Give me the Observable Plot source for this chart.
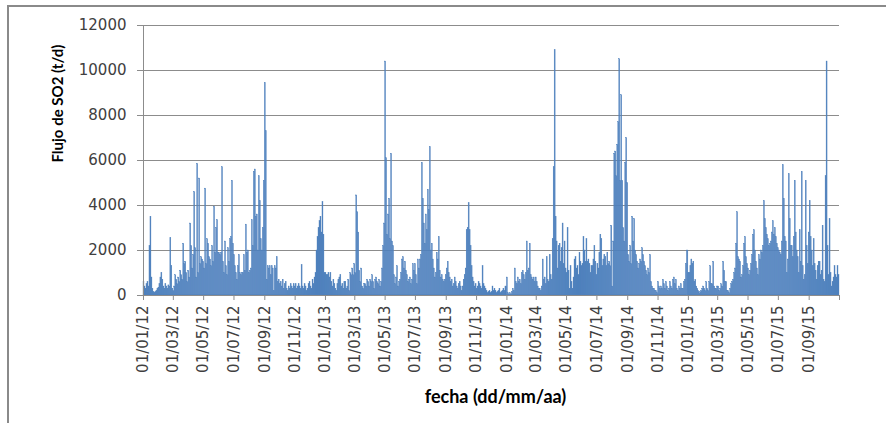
<!DOCTYPE html>
<html><head><meta charset="utf-8">
<script src="https://cdn.jsdelivr.net/npm/d3@7"></script>
<script src="https://cdn.jsdelivr.net/npm/@observablehq/plot@0.6"></script>
<style>
html,body{margin:0;padding:0;background:#fff;overflow:hidden;width:886px;height:423px}
#frame{position:absolute;left:7px;top:5px;width:1000px;height:1000px;border-left:2px solid #8a8a8a;border-top:2px solid #8a8a8a;}
#chart{position:absolute;left:0;top:0}
</style></head><body><div id="frame"></div><div id="chart"></div>
<script>
// Two-day values (t/d) per year
const yearStarts = ["2012-01-01", "2013-01-01", "2014-01-01", "2015-01-01"];
const axisEnd = "2015-11-01";

const flux2012 = [
600,400,300,500,600,400,2200,3500,800,300,
150,120,150,200,300,350,500,800,1000,700,
400,300,500,400,300,450,400,2550,1300,300,
200,400,900,700,500,800,600,1100,900,700,
2300,1400,1500,1000,600,1100,800,3200,2200,1200,
1800,4600,2100,800,5850,1000,5200,1400,1700,1600,
1500,1200,4750,1400,2500,2300,1700,1600,1300,2200,
1500,3950,1900,3000,3350,1900,1900,1800,1900,5700,
1500,1000,2400,1300,900,2100,1500,2500,2600,5100,
2300,1800,1300,1000,700,1300,1800,1000,900,1000,
1000,1800,1100,3150,1900,2000,1000,1100,1200,3350,
2200,5500,5600,3500,3600,2000,5300,4200,2500,2000,
3000,5100,9450,7300,700,1300,1200,1300,900,1300,
1200,200,1300,1200,1700,600,700,500,600,400,
700,300,500,600,300,200,400,300,500,400,
300,500,400,500,300,400,500,400,300,1350,
400,300,500,400,200,300,500,600,400,300,
700,500,800,1000,2000,2600,3000,3300,3500,2800,
4150,2700,1000];

const flux2013 = [
1000,900,900,1000,800,1000,600,400,700,500,
300,200,500,700,800,900,400,500,300,600,
600,300,400,700,200,1000,900,1200,900,1400,
1000,4450,3700,2800,1100,600,1200,400,300,500,
500,400,700,600,400,700,600,900,600,300,
700,800,600,500,700,400,600,1200,2200,3200,
10400,6100,2700,3600,4300,2500,6300,2400,2200,900,
500,800,1300,400,600,700,1000,1600,1700,1200,
1500,1100,900,600,700,800,500,700,1400,1100,
1400,900,500,1600,1200,1600,1800,5900,4300,3200,
2300,3600,2900,4700,3800,6600,2000,2300,1600,1200,
800,1000,1900,1600,2600,1100,800,900,700,600,
700,900,1200,1500,1000,800,600,700,400,500,
800,600,400,300,500,600,400,200,400,700,
900,1200,2900,3000,4100,2900,2200,1300,800,600,
400,500,300,400,600,500,400,300,1300,500,
400,300,200,100,150,200,100,150,400,200,
300,200,100,150,200,300,100,150,200,300,
200,400];

const flux2014 = [
800,100,50,100,50,150,300,200,1200,600,
500,800,600,700,500,1000,1100,900,700,1000,
2400,1100,1200,2300,900,800,700,800,600,800,
600,400,300,300,200,400,1600,700,800,500,
1700,700,600,1800,900,700,2500,5700,10900,3500,
2400,1200,2200,2300,1500,2100,3200,1400,2400,1200,
1000,3000,1100,300,1300,600,300,800,1600,1700,
1200,1300,900,1900,1500,1300,1400,2600,2000,1500,
2500,1500,1600,1400,1000,1300,1300,1600,2200,1500,
900,1400,1200,1900,2700,2500,1300,1600,1800,1700,
1300,1900,1400,1500,1300,3100,400,2400,6300,6400,
5300,6700,7700,10500,5100,8900,5100,3000,2400,5900,
7000,5000,1800,1500,2200,1400,3500,2400,3400,2000,
1800,1500,1200,1400,1600,1500,2100,1800,1500,1300,
1100,900,1200,1000,1800,600,400,300,300,200,
200,100,600,400,300,400,300,700,500,300,
600,400,200,300,600,400,300,700,800,500,
700,300,200,400,300,500,300,300,600,700,
1400,2000];

const flux2015 = [
1000,1000,1300,1600,1400,1500,600,700,400,300,
200,100,150,200,300,400,300,200,600,300,
200,600,1300,500,500,1500,400,300,300,400,
400,200,300,500,400,1500,1100,600,600,200,
200,100,300,500,600,700,1000,1200,2300,3700,
1700,1600,1500,800,900,1300,2300,2600,1700,1400,
1200,900,1100,1400,1800,2700,2900,2000,1500,1200,
900,1800,1600,2000,1900,2200,4200,3400,3000,2700,
2500,2200,2300,2400,2800,3300,2700,3000,2600,2300,
2100,2000,1900,1800,2400,5800,4300,2600,2400,1000,
1600,5400,3400,2200,2200,1700,2600,5100,2800,2000,
1700,1000,2900,1500,5500,1300,700,900,5100,2200,
1400,2800,4200,2600,2000,1300,2500,1400,1100,700,
1300,1500,1500,900,1100,3100,700,600,5300,10400,
2200,900,3400,1000,400,600,800,1300,900,800,
1300,900];

const tickLabels = ["01/01/12","01/03/12","01/05/12","01/07/12","01/09/12","01/11/12",
  "01/01/13","01/03/13","01/05/13","01/07/13","01/09/13","01/11/13",
  "01/01/14","01/03/14","01/05/14","01/07/14","01/09/14","01/11/14",
  "01/01/15","01/03/15","01/05/15","01/07/15","01/09/15"];
const yTicks = [0, 2000, 4000, 6000, 8000, 10000, 12000];
const yTitle = "Flujo de SO2 (t/d)";
const xTitle = "fecha (dd/mm/aa)";

const series = [flux2012, flux2013, flux2014, flux2015];
const xStart = new Date(yearStarts[0] + "T00:00:00Z");
const xEnd = new Date(axisEnd + "T00:00:00Z");
const rows = [];
series.forEach((arr, k) => {
  const start = new Date(yearStarts[k] + "T00:00:00Z");
  const next = k < series.length - 1 ? new Date(yearStarts[k + 1] + "T00:00:00Z") : xEnd;
  arr.forEach((v, i) => {
    const d1 = d3.utcDay.offset(start, 2 * i);
    let d2 = d3.utcDay.offset(start, 2 * i + 2);
    if (i === arr.length - 1 || d2 > next) d2 = next;
    rows.push({d1, d2, v});
  });
});
const parseTick = d3.utcParse("%d/%m/%y");
const tickDates = tickLabels.map(parseTick);
const gray = "#8c8c8c";
const blue = "#4F81BD";

const plot = Plot.plot({
  width: 886, height: 423,
  marginLeft: 143, marginRight: 47, marginTop: 25, marginBottom: 128,
  style: {fontFamily: "DejaVu Sans", fontSize: "15px", background: "transparent", overflow: "visible"},
  x: {type: "utc", domain: [xStart, xEnd]},
  y: {domain: [0, 12000]},
  marks: [
    Plot.gridY({ticks: yTicks, stroke: gray, strokeOpacity: 1}),
    Plot.rectY(rows, {x1: "d1", x2: "d2", y: "v", fill: blue, stroke: blue, strokeWidth: 0.35}),
    Plot.ruleX([xStart], {stroke: gray}),
    Plot.ruleY([0], {stroke: gray}),
    Plot.axisY({ticks: yTicks, tickSize: 6, tickPadding: 11, stroke: gray, fill: "#404040", label: null, tickFormat: d3.format("d")}),
    Plot.axisX({ticks: tickDates, tickFormat: d3.utcFormat("%d/%m/%y"), tickRotate: -90, tickSize: 5, tickPadding: 5, stroke: gray, fill: "#404040", label: null}),
    Plot.axisX({ticks: [xEnd], tickFormat: () => "", tickSize: 5, stroke: gray, label: null}),
    Plot.text([yTitle], {frameAnchor: "left", dx: -85, dy: 2, rotate: -90, fontWeight: "bold", fontFamily: "Lato", fontSize: 15, fill: "#000"}),
    Plot.text([xTitle], {frameAnchor: "bottom", dx: 4, dy: 107, fontWeight: "bold", fontFamily: "Lato", fontSize: 18, fill: "#000"})
  ]
});
document.getElementById("chart").appendChild(plot);
</script>
</body></html>
